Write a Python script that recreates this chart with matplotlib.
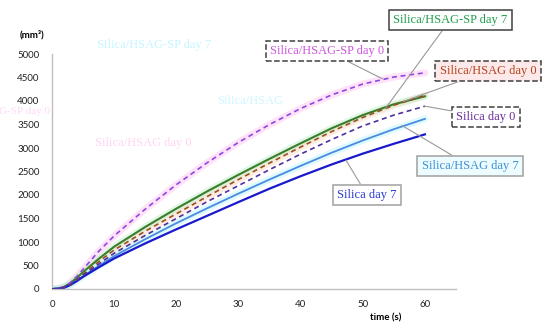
import matplotlib
matplotlib.use("Agg")
import matplotlib.pyplot as plt

# ---- data ----
time_s = [0, 1, 2, 3, 4, 5, 7.5, 10, 15, 20, 25, 30, 35, 40, 45, 50, 55, 60]
hsag_sp_day0 = [0, 10, 50, 140, 270, 420, 800, 1130, 1700, 2220, 2690, 3120, 3500, 3840, 4130, 4360, 4510, 4600]
hsag_day0    = [0, 8, 35, 100, 200, 310, 580, 830, 1230, 1600, 1970, 2330, 2680, 3020, 3350, 3650, 3910, 4120]
hsag_sp_day7 = [0, 10, 50, 130, 240, 360, 640, 900, 1320, 1710, 2080, 2430, 2770, 3100, 3420, 3700, 3930, 4100]
silica_day0  = [0, 8, 35, 100, 190, 290, 530, 760, 1140, 1500, 1860, 2200, 2540, 2870, 3180, 3470, 3700, 3890]
hsag_day7    = [0, 6, 30, 90, 180, 270, 490, 700, 1060, 1400, 1720, 2030, 2330, 2620, 2900, 3160, 3400, 3620]
silica_day7  = [0, 6, 30, 90, 170, 260, 460, 650, 970, 1270, 1560, 1850, 2135, 2400, 2650, 2880, 3090, 3290]

labels = ["Silica/HSAG-SP day 0", "Silica/HSAG day 0", "Silica/HSAG-SP day 7",
          "Silica day 0", "Silica/HSAG day 7", "Silica day 7"]
x_ticks = [0, 10, 20, 30, 40, 50, 60]
y_ticks = [0, 500, 1000, 1500, 2000, 2500, 3000, 3500, 4000, 4500, 5000]

W, H = 550, 330
fig = plt.figure(figsize=(5.5, 3.3), dpi=100)
ax = fig.add_axes([52/W, 1-289/H, (456-52)/W, (289-54)/H])
ax.set_xlim(0, 65)
ax.set_ylim(0, 5000)

series = [
    (hsag_sp_day0, '#8a4be0', '--', '#ffc4f6', 1.2),
    (hsag_day0,    '#9a4f22', '--', '#ffd8c4', 1.2),
    (hsag_sp_day7, '#3a7d2c', '-',  '#c4f2cc', 1.5),
    (silica_day0,  '#5030a0', '--', None,      1.2),
    (hsag_day7,    '#4a8ae0', '-',  '#c0f6ff', 1.3),
    (silica_day7,  '#1a1acc', '-',  None,      1.6),
]
for vals, c, ls, glow, lw in series:
    if glow:
        ax.plot(time_s, vals, color=glow, lw=5, alpha=0.5, solid_capstyle='round', zorder=1)
for vals, c, ls, glow, lw in series:
    if ls == '--':
        ax.plot(time_s, vals, color=c, lw=lw, dashes=(3, 2.2), zorder=3)
    else:
        ax.plot(time_s, vals, color=c, lw=lw, zorder=2)

for s in ['top', 'right']:
    ax.spines[s].set_visible(False)
for s in ['left', 'bottom']:
    ax.spines[s].set_color('#bfbfbf')
    ax.spines[s].set_linewidth(1)
ax.set_xticks(x_ticks)
ax.set_yticks(y_ticks)
ax.tick_params(length=0, labelsize=7, pad=8, colors='#222222')
for t in ax.get_xticklabels() + ax.get_yticklabels():
    t.set_family('Lato')
ax.tick_params(axis='y', pad=9)

fig.text(20/W, 1-35/H, "(mm³)", fontsize=7, fontweight='bold', family='Lato', va='center', ha='left')
fig.text(386/W, 1-318/H, "time (s)", fontsize=7, fontweight='bold', family='Lato', va='center', ha='center')

# faint ghost labels seen in the reference
ghost = [
    ("Silica/HSAG-SP day 7", 154, 45, '#c4f6ff', 9),
    ("G-SP day 0", 24, 112, '#ffd8f4', 8),
    ("Silica/HSAG", 250, 101, '#cff6ff', 9),
    ("Silica/HSAG day 0", 143, 143, '#ffd4f2', 9),
]
for txt, gx, gy, gc, gs in ghost:
    fig.text(gx/W, 1-gy/H, txt, fontsize=gs, family='Liberation Serif', color=gc,
             ha='center', va='center', zorder=0)

ann = [
    (labels[2], (53.7, 3850), (450, 20), '#1f9e4a', 'white', '#404040', '-'),
    (labels[0], (53.2, 4470), (327, 51), '#cc55dd', 'white', '#404040', '--'),
    (labels[1], (56.5, 3990), (488, 71), '#b4441c', '#fde8ea', '#404040', '--'),
    (labels[3], (60.0, 3890), (486, 117), '#6a2c9c', 'white', '#404040', '--'),
    (labels[4], (56.3, 3480), (470, 166), '#3d8fd6', '#ecfcff', '#a0a0a0', '-'),
    (labels[5], (47.3, 2740), (367, 195), '#2b3bd0', 'white', '#a0a0a0', '-'),
]
for txt, xy, (px, py), tc, fc, ec, bls in ann:
    ax.annotate(txt, xy=xy, xycoords='data', xytext=(px, H-py), textcoords='figure pixels',
                fontsize=9, family='Liberation Serif', color=tc, ha='center', va='center',
                bbox=dict(boxstyle='square,pad=0.35', fc=fc, ec=ec, lw=1.1, ls=bls),
                arrowprops=dict(arrowstyle='-', color='#999999', lw=0.8, shrinkA=0, shrinkB=0),
                zorder=5, annotation_clip=False)

fig.savefig("out.png", dpi=100)
